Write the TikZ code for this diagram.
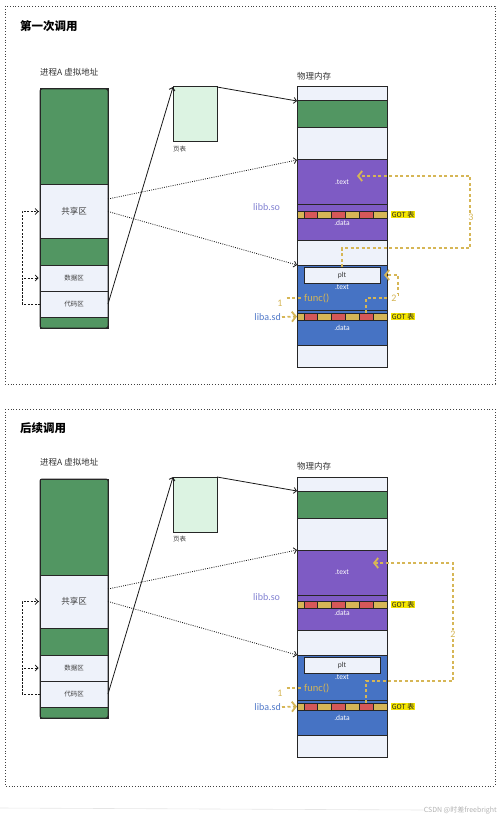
\documentclass[tikz,border=0pt]{standalone}
\usepackage{fontspec}
\setmainfont{Carlito}
\newfontfamily\cjk{Noto Sans CJK SC}
\usepackage{xcolor}
\usetikzlibrary{arrows.meta}
\definecolor{grn}{RGB}{82,150,98}
\definecolor{lite}{RGB}{238,242,250}
\definecolor{ptgrn}{RGB}{220,243,226}
\definecolor{purp}{RGB}{126,91,196}
\definecolor{blu}{RGB}{70,115,196}
\definecolor{tan}{RGB}{214,182,86}
\definecolor{cred}{RGB}{214,88,88}
\definecolor{gotyel}{RGB}{245,230,0}
\definecolor{lbcol}{RGB}{130,130,210}
\definecolor{lacol}{RGB}{80,120,200}

\begin{document}
\begin{tikzpicture}[x=1pt, y=-1pt,
    seg/.style={draw=black!85, line width=1pt, minimum width=68pt, inner sep=0pt, outer sep=0pt, anchor=north west, font=\cjk\fontsize{8.5}{10}\selectfont, text=black!75},
    sseg/.style={seg, font=\cjk\fontsize{6.5}{8}\selectfont},
    mseg/.style={seg, minimum width=90pt, font=\fontsize{7.5}{9}\selectfont, text=white},
    cell/.style={draw=black!85, line width=0.7pt, minimum height=7pt, inner sep=0pt, outer sep=0pt, anchor=north west},
    gotlbl/.style={fill=gotyel, inner sep=0.7pt, font=\cjk\fontsize{7}{8}\selectfont, text=black!85, anchor=west},
    lbl/.style={font=\cjk\fontsize{8.5}{10}\selectfont, text=black!80, anchor=west, inner sep=0pt},
    small/.style={font=\cjk\fontsize{6.5}{8}\selectfont, text=black!75, anchor=west, inner sep=0pt},
    ttl/.style={font=\cjk\bfseries\fontsize{11.5}{13}\selectfont, anchor=west, inner sep=0pt},
    num/.style={font=\fontsize{10}{11}\selectfont, text=tan, inner sep=1pt},
    arrow/.style={-{Straight Barb[length=2.8pt,width=6pt]}, line width=0.8pt, draw=black!90},
    dots/.style={dash pattern=on 0.9pt off 1.3pt},
    orline/.style={draw=tan, line width=1.8pt, dash pattern=on 3pt off 2.5pt},
    orarrow/.style={orline, -{Straight Barb[length=4pt,width=10pt]}},
    panel/.style={draw=black!75, line width=0.8pt, dotted}
]
\useasboundingbox (0,0) rectangle (500,818);

\draw[panel] (5,6) rectangle (495,384);
\draw[panel] (5,409) rectangle (495,786);
\node[ttl] (t1) at (20,26) {第一次调用};
\node[ttl] (t2) at (20,428) {后续调用};

\foreach \p/\dy/\tx/\ty in {a/0/357/176,b/390/373/173}{
\begin{scope}[yshift=-\dy pt]
\node[lbl] (vl\p) at (40,72) {进程A 虚拟地址};
\node[seg, fill=grn, minimum height=96pt] (g1\p) at (40,89) {};
\node[seg, fill=lite, minimum height=53pt] (sh\p) at (40,185) {共享区};
\node[seg, fill=grn, minimum height=27pt] (g2\p) at (40,238) {};
\node[sseg, fill=lite, minimum height=26pt] (da\p) at (40,265) {数据区};
\node[sseg, fill=lite, minimum height=26pt] (co\p) at (40,291) {代码区};
\node[seg, fill=grn, minimum height=11pt] (g3\p) at (40,317) {};
\draw[draw=black!85, line width=1pt, rounded corners=2pt] (g1\p.north west) rectangle (g3\p.south east);

\node[seg, fill=ptgrn, minimum width=44pt, minimum height=55pt] (pt\p) at (173,87) {};
\node[small] (ptl\p) at (173,149) {页表};

\node[lbl] (ml\p) at (297,76) {物理内存};
\node[mseg, fill=lite, minimum height=14pt] (m1\p) at (297,87) {};
\node[mseg, fill=grn, minimum height=27pt] (m2\p) at (297,101) {};
\node[mseg, fill=lite, minimum height=32pt] (m3\p) at (297,128) {};
\node[mseg, fill=purp, minimum height=45pt] (bt\p) at (297,160) {.text};
\node[mseg, fill=purp, minimum height=35pt] (bd\p) at (297,205) {.data};
\node[mseg, fill=lite, minimum height=25pt] (m4\p) at (297,240) {};
\node[mseg, fill=blu, minimum height=45pt] (at\p) at (297,265) {.text};
\node[mseg, fill=blu, minimum height=35pt] (ad\p) at (297,310) {.data};
\node[mseg, fill=lite, minimum height=22pt] (m5\p) at (297,345) {};
\node[seg, fill=lite, minimum width=76pt, minimum height=16pt, font=\fontsize{7.5}{9}\selectfont, text=black!80] (plt\p) at (304,267) {plt};

\foreach \s/\gy in {b/211,a/313}{
  \foreach \i/\x/\w/\c in {1/297/7/tan,2/304/13.83/cred,3/317.83/13.83/tan,4/331.67/13.83/cred,5/345.5/13.83/tan,6/359.33/13.83/cred,7/373.17/13.83/tan}{
    \node[cell, fill=\c, minimum width=\w pt] (g\s\p\i) at (\x,\gy) {};
  }
  \node[gotlbl] (gl\s\p) at (391,\gy+3.5) {GOT 表};
}

\node[font=\fontsize{10}{12}\selectfont, text=lbcol, anchor=west, inner sep=0pt] (lb\p) at (253,207) {libb.so};
\node[font=\fontsize{10}{12}\selectfont, text=lacol, anchor=east, inner sep=1pt] (la\p) at (282,317) {liba.sd};
\node[font=\fontsize{10.5}{12}\selectfont, text=tan, anchor=west, inner sep=1pt] (fn\p) at (303,298) {func()};
\node[num] (n1\p) at (280,303) {1};
\coordinate (k\p) at (22,304);
\coordinate (tx\p) at (\tx,\ty);

\draw[arrow] (co\p.east) -- (pt\p.north west);
\draw[arrow] (pt\p.north east) -- (m2\p.north west);
\draw[arrow, dots] ([yshift=12.5pt]sh\p.east) -- (bt\p.north west);
\draw[arrow, dots] (sh\p.east) -- (at\p.north west);
\draw[arrow, dash pattern=on 2pt off 1.5pt, shorten >=1.5pt] (co\p.west) -- (k\p) |- (sh\p.west);
\draw[arrow, dash pattern=on 2pt off 1.5pt, shorten >=1.5pt] (k\p) |- (da\p.west);
\draw[orline] ([xshift=3pt]n1\p.east |- fn\p.west) -- (fn\p.west);
\draw[orarrow] (la\p.east) -- (ga\p1.west);
\end{scope}
}

\draw[orarrow] (plta.north) |- ++(128,-19) |- (txa);
\node[num, fill=white] (n3a) at (471,217) {3};
\draw[orarrow] (gaa6.north) |- ++(32,-15) |- ([xshift=4pt]plta.east);
\node[num, fill=white] (n2a) at (394,298) {2};
\draw[orarrow] (gab6.north) |- ++(87,-22) |- (txb);
\node[num, fill=white] (n2b) at (453,634) {2};

\node[font=\cjk\fontsize{7}{8}\selectfont, text=black!30, anchor=east, inner sep=0pt] (wm) at (497,810) {CSDN @时差freebright};
\draw[black!10, line width=0.6pt] (0,808) -- (wm.west);
\end{tikzpicture}
\end{document}
